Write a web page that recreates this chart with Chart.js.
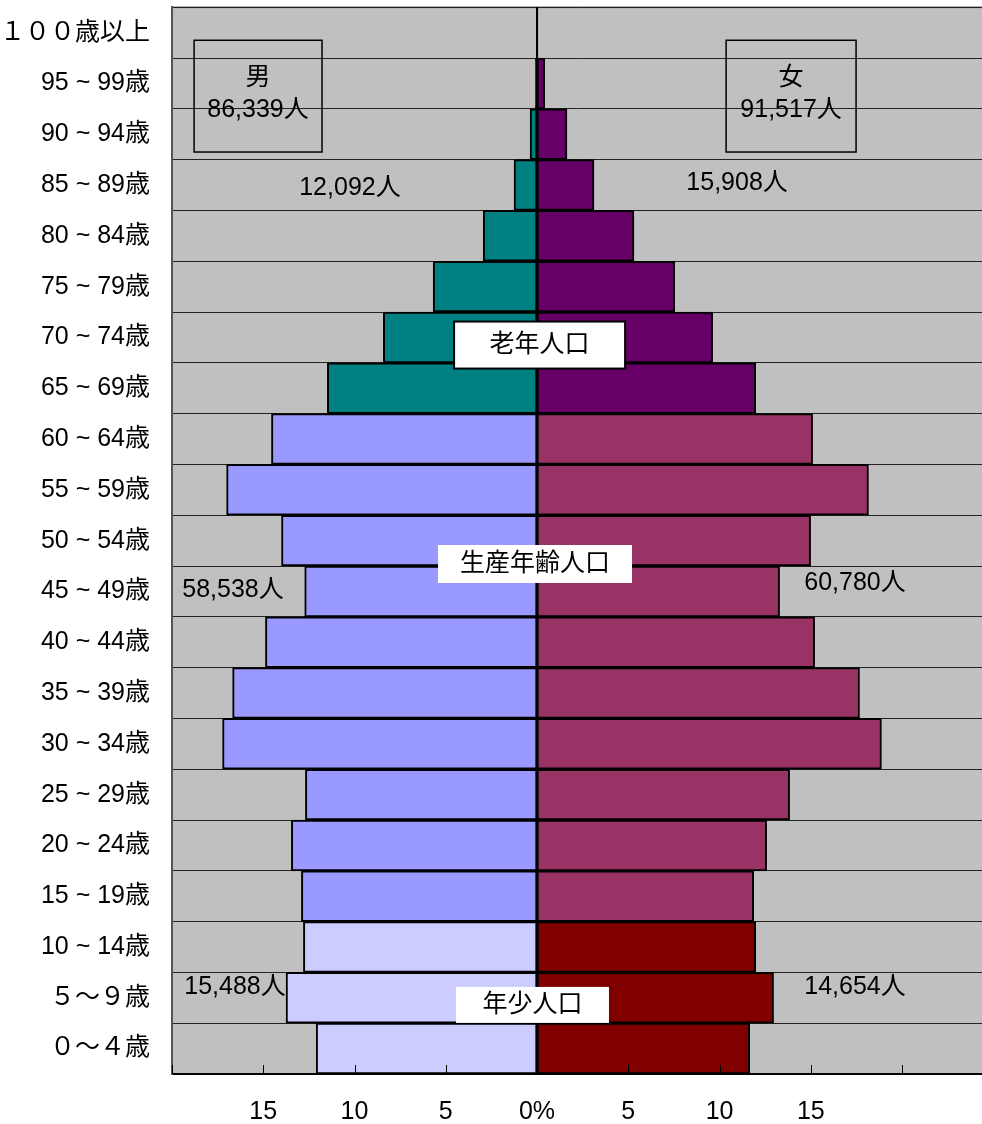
<!DOCTYPE html>
<html><head><meta charset="utf-8">
<script src="https://cdn.jsdelivr.net/npm/chart.js@4.4.1/dist/chart.umd.min.js"></script>
<style>html,body{margin:0;padding:0;background:#fff;}#wrap{width:982px;height:1124px;}</style>
</head><body><div id="wrap"><canvas id="c" width="982" height="1124"></canvas></div>
<script>
// Age groups, bottom (youngest) to top (oldest)
const ageGroups = ['０～４歳','５～９歳','10 ~ 14歳','15 ~ 19歳','20 ~ 24歳','25 ~ 29歳','30 ~ 34歳','35 ~ 39歳','40 ~ 44歳','45 ~ 49歳','50 ~ 54歳','55 ~ 59歳','60 ~ 64歳','65 ~ 69歳','70 ~ 74歳','75 ~ 79歳','80 ~ 84歳','85 ~ 89歳','90 ~ 94歳','95 ~ 99歳','１００歳以上'];
// Share of population (%)
const malePct   = [12.1, 13.75, 12.8, 12.91, 13.46, 12.69, 17.23, 16.68, 14.88, 12.73, 14.0, 17.01, 14.55, 11.49, 8.42, 5.69, 2.95, 1.26, 0.38, 0.1, 0.02];
const femalePct = [11.65, 12.96, 11.98, 11.87, 12.58, 13.84, 18.87, 17.67, 15.21, 13.29, 14.99, 18.16, 15.1, 11.98, 9.63, 7.55, 5.31, 3.12, 1.64, 0.42, 0.05];
// Group of each age class: 0 = 年少, 1 = 生産年齢, 2 = 老年
const ageGroupType = [0,0,0,1,1,1,1,1,1,1,1,1,1,2,2,2,2,2,2,2,2];
const groupNames = ['年少人口','生産年齢人口','老年人口'];
const maleTotal = '86,339人', femaleTotal = '91,517人';
const maleGroupCounts = ['15,488人','58,538人','12,092人'];
const femaleGroupCounts = ['14,654人','60,780人','15,908人'];
const xTickStep = 5;

const maleColors = ['#CCCCFF','#9999FF','#008080'];
const femaleColors = ['#800000','#993366','#660066'];

const FONT = "'Liberation Sans', 'Noto Sans CJK JP', sans-serif";

// annotation placement (data units: x = %, y = age class index)
const annotations = [
  {type:'frame', x1:-18.79, x2:-11.78, y1:19.85, y2:17.65},
  {type:'frame', x1:10.36, x2:17.48, y1:19.85, y2:17.65},
  {type:'text', text:'男', x:-15.29, y:19.10},
  {type:'text', text:maleTotal, x:-15.29, y:18.47},
  {type:'text', text:'女', x:13.92, y:19.10},
  {type:'text', text:femaleTotal, x:13.92, y:18.47},
  {type:'text', text:maleGroupCounts[2], x:-10.25, y:16.94},
  {type:'text', text:femaleGroupCounts[2], x:10.96, y:17.04},
  {type:'text', text:maleGroupCounts[1], x:-16.66, y:9.03},
  {type:'text', text:femaleGroupCounts[1], x:17.42, y:9.16},
  {type:'text', text:maleGroupCounts[0], x:-16.55, y:1.21},
  {type:'text', text:femaleGroupCounts[0], x:17.42, y:1.21},
  {type:'label', text:groupNames[2], x:0.14, y:13.85, w:171, h:47, frame:true},
  {type:'label', text:groupNames[1], x:-0.11, y:9.54, w:194, h:38, frame:false},
  {type:'label', text:groupNames[0], x:-0.25, y:0.86, w:153, h:36, frame:false}
];

const bgPlugin = {
  id:'bg',
  beforeDraw(chart){
    const {ctx, chartArea:a} = chart;
    ctx.save();
    ctx.fillStyle = '#C0C0C0';
    ctx.fillRect(a.left, a.top, a.right-a.left, a.bottom-a.top);
    ctx.strokeStyle = '#999';
    ctx.lineWidth = 2;
    ctx.beginPath(); ctx.moveTo(a.left, a.top); ctx.lineTo(a.right, a.top); ctx.stroke();
    ctx.restore();
  }
};

const overlayPlugin = {
  id:'overlay',
  afterDatasetsDraw(chart){
    const {ctx, chartArea:a, scales:{x, y}} = chart;
    ctx.save();
    // zero line
    const zx = Math.round(x.getPixelForValue(0));
    ctx.strokeStyle = '#000'; ctx.lineWidth = 2;
    ctx.beginPath(); ctx.moveTo(zx, a.top); ctx.lineTo(zx, a.bottom); ctx.stroke();
    // inner tick marks on x axis
    ctx.lineWidth = 1;
    x.ticks.forEach(t => {
      const px = Math.round(x.getPixelForValue(t.value)) + 0.5;
      ctx.beginPath(); ctx.moveTo(px, a.bottom); ctx.lineTo(px, a.bottom - 9); ctx.stroke();
    });
    ctx.font = '25px ' + FONT;
    ctx.textAlign = 'center'; ctx.textBaseline = 'middle';
    annotations.forEach(an => {
      if (an.type === 'frame') {
        const x1 = x.getPixelForValue(an.x1), x2 = x.getPixelForValue(an.x2);
        const y1 = y.getPixelForValue(an.y1), y2 = y.getPixelForValue(an.y2);
        ctx.strokeStyle = '#000'; ctx.lineWidth = 1.5;
        ctx.strokeRect(x1, y1, x2-x1, y2-y1);
      } else if (an.type === 'text') {
        ctx.fillStyle = '#000';
        ctx.fillText(an.text, x.getPixelForValue(an.x), y.getPixelForValue(an.y));
      } else if (an.type === 'label') {
        const cx = x.getPixelForValue(an.x), cy = y.getPixelForValue(an.y);
        ctx.fillStyle = '#fff';
        ctx.fillRect(cx - an.w/2, cy - an.h/2, an.w, an.h);
        if (an.frame) { ctx.strokeStyle = '#000'; ctx.lineWidth = 2; ctx.strokeRect(cx - an.w/2, cy - an.h/2, an.w, an.h); }
        ctx.fillStyle = '#000';
        ctx.fillText(an.text, cx, cy);
      }
    });
    ctx.restore();
  }
};

new Chart(document.getElementById('c'), {
  type:'bar',
  data:{
    labels: ageGroups,
    datasets:[
      {label:'男', data: malePct.map(v => -v), backgroundColor: ageGroupType.map(g => maleColors[g]),
       borderColor:'#000', borderWidth:2, borderSkipped:false, barPercentage:1, categoryPercentage:1},
      {label:'女', data: femalePct, backgroundColor: ageGroupType.map(g => femaleColors[g]),
       borderColor:'#000', borderWidth:2, borderSkipped:false, barPercentage:1, categoryPercentage:1}
    ]
  },
  options:{
    indexAxis:'y',
    responsive:false,
    animation:false,
    devicePixelRatio:1,
    layout:{padding:{top:0, right:0, left:0, bottom:0}},
    plugins:{legend:{display:false}, tooltip:{enabled:false}},
    scales:{
      x:{
        stacked:true, min:-20, max:24.38,
        grid:{display:false, drawTicks:false},
        border:{display:true, color:'#000', width:2},
        ticks:{stepSize:xTickStep, includeBounds:false, autoSkip:false, maxRotation:0, padding:23,
          color:'#000', font:{family:FONT, size:25},
          callback:(v)=> v === 0 ? '0%' : (Math.abs(v) >= 20 ? '' : String(Math.abs(v)))},
        afterFit(s){ s.height = 50; }
      },
      y:{
        stacked:true, reverse:true,
        grid:{display:true, drawTicks:true, tickLength:22, tickColor:'rgba(0,0,0,0)', color:'#222', lineWidth:1, offset:true},
        border:{display:true, color:'#555', width:2},
        ticks:{padding:0, color:'#000', font:{family:FONT, size:25, lineHeight:0.58}, autoSkip:false},
        afterFit(s){ s.width = 172; }
      }
    }
  },
  plugins:[bgPlugin, overlayPlugin]
});
</script>
</body></html>
